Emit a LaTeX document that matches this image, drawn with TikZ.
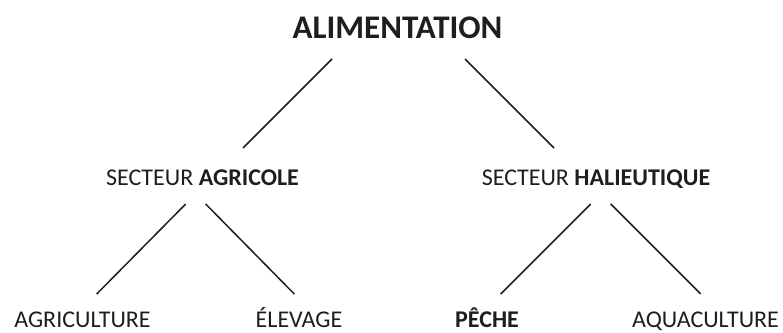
\documentclass[tikz,border=0pt]{standalone}
\usepackage{fontspec}
\setmainfont{Carlito}
\definecolor{ink}{HTML}{1E1E1E}
\begin{document}
\begin{tikzpicture}[x=1pt,y=-1pt,
  lbl/.style={anchor=base,inner sep=0pt,text depth=0pt,text=ink,font=\fontsize{24}{24}\selectfont},
  ttl/.style={anchor=base,inner sep=0pt,text depth=0pt,text=ink,font=\fontsize{33}{33}\selectfont\bfseries},
  link/.style={draw=ink,line width=1.5pt}]
\useasboundingbox (0,0) rectangle (783,332);
\node[ttl] (al) at (397.5,38.3) {ALIMENTATION};
\node[lbl] (sa) at (202.5,185) {SECTEUR \textbf{AGRICOLE}};
\node[lbl] (sh) at (596,185) {SECTEUR \textbf{HALIEUTIQUE}};
\node[lbl] (ag) at (82.5,327.5) {AGRICULTURE};
\node[lbl] (el) at (299,327.5) {ÉLEVAGE};
\node[lbl] (pe) at (487,327.5) {\textbf{PÊCHE}};
\node[lbl] (aq) at (705.5,327.5) {AQUACULTURE};
% connector ends
\coordinate (al-l) at (332,59);
\coordinate (al-r) at (465,59);
\coordinate (sa-t) at (243,148);
\coordinate (sh-t) at (554,148);
\coordinate (sa-l) at (185.7,204);
\coordinate (sa-r) at (205.7,204);
\coordinate (sh-l) at (590.7,204);
\coordinate (sh-r) at (610.7,204);
\coordinate (ag-t) at (96.7,294);
\coordinate (el-t) at (294.3,294);
\coordinate (pe-t) at (500.7,294);
\coordinate (aq-t) at (700.7,294);
\draw[link] (al-l) -- (sa-t);
\draw[link] (al-r) -- (sh-t);
\draw[link] (sa-l) -- (ag-t);
\draw[link] (sa-r) -- (el-t);
\draw[link] (sh-l) -- (pe-t);
\draw[link] (sh-r) -- (aq-t);
\end{tikzpicture}
\end{document}
